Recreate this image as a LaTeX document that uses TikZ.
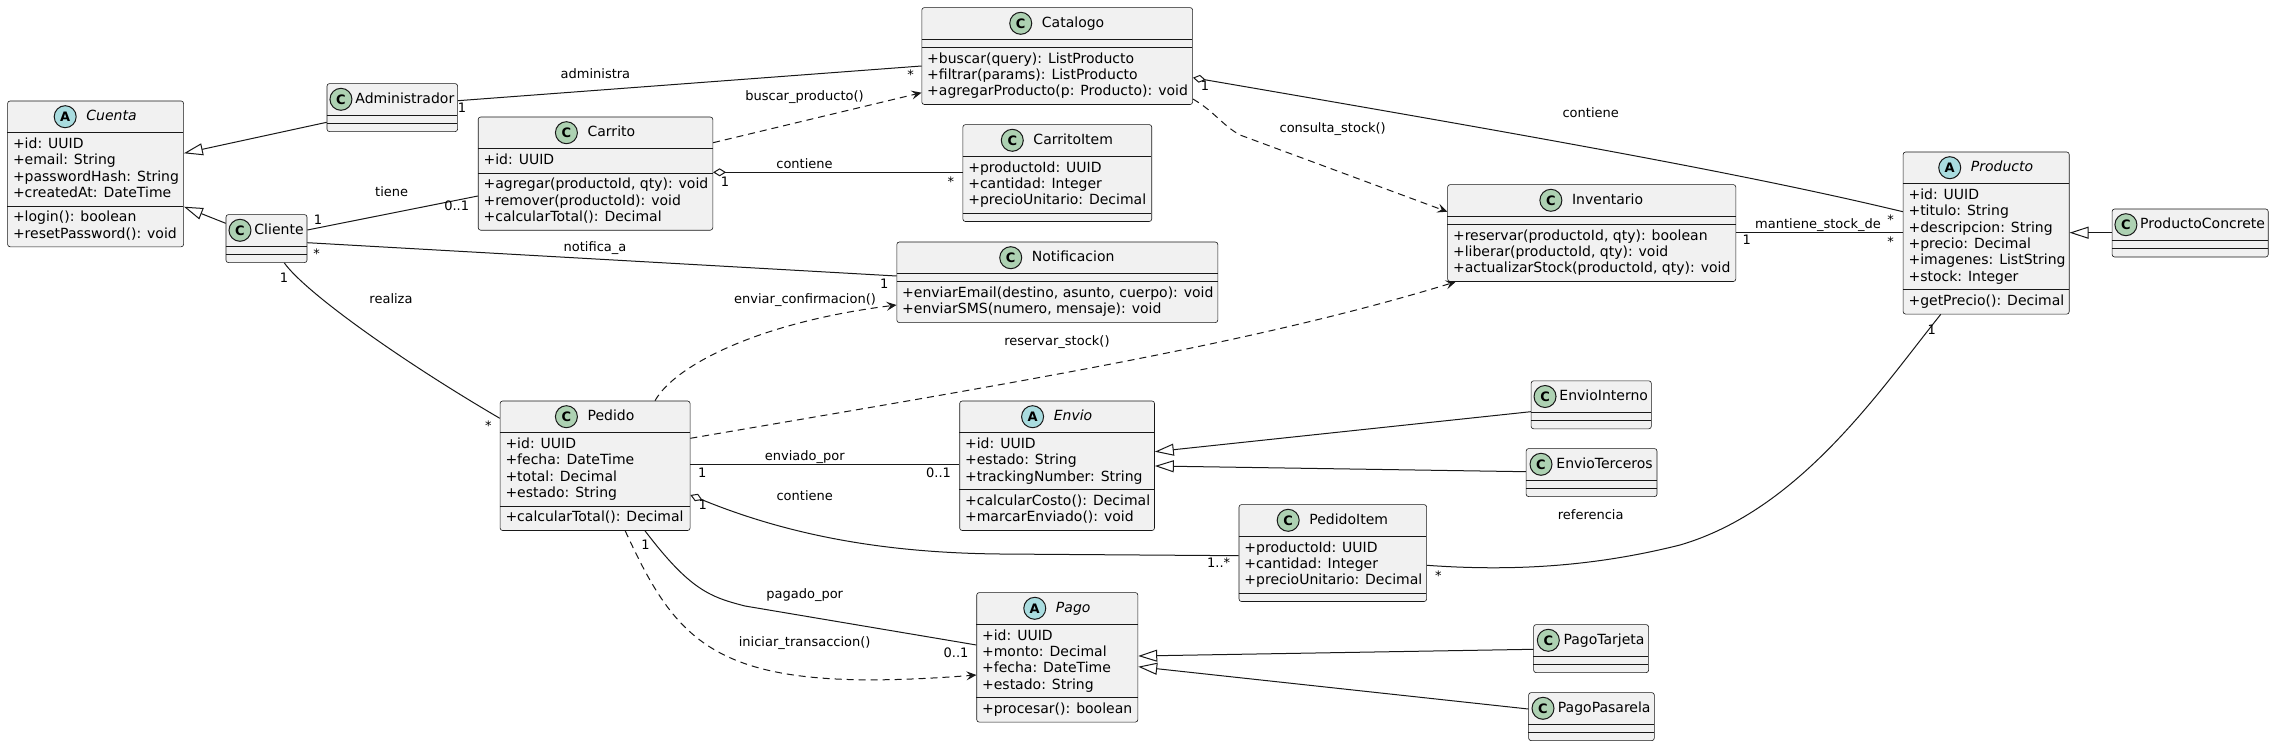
\documentclass[tikz,border=0pt]{standalone}
\usepackage{fontspec}
\setmainfont{DejaVu Sans}
\usetikzlibrary{arrows.meta,calc}
\definecolor{boxfill}{HTML}{F1F1F1}
\definecolor{bordercol}{HTML}{181818}
\definecolor{clsfill}{HTML}{ADD1B2}
\definecolor{absfill}{HTML}{A9DCDF}
\definecolor{linecol}{HTML}{181818}
\newlength\clstw
\tikzset{
  classbox/.style={draw=bordercol, fill=boxfill, line width=0.6pt, rounded corners=2.5pt, inner sep=0pt},
  sepline/.style={draw=bordercol, line width=0.6pt},
  attr/.style={anchor=west, inner sep=0pt, text height=10.5pt, text depth=2.5pt, font=\fontsize{14}{16}\selectfont},
  lbl/.style={inner sep=0pt, text height=9.5pt, text depth=2.5pt, font=\fontsize{13}{15}\selectfont},
  conn/.style={draw=linecol, line width=1pt},
  gen/.style={-{Triangle[open, length=19pt, width=12pt]}},
  dep/.style={dash pattern=on 7pt off 5pt, -{Stealth[length=10pt, width=9pt, inset=4pt]}},
  agg/.style={{Diamond[open, length=13pt, width=8pt]}-},
}
% #1 name, #2 kind (A/C), #3 left, #4 top, #5 width, #6 n attrs, #7 attrs, #8 n methods, #9 methods
\newcommand\umlcls[9]{%
  \pgfmathsetmacro\yA{#4+32}%
  \pgfmathsetmacro\yB{\yA+16.3*#6+8}%
  \pgfmathsetmacro\yC{\yB+16.3*#8+8}%
  \pgfmathsetmacro\hh{\yC-#4}%
  \pgfmathsetmacro\xR{#3+#5}%
  \node[classbox, minimum width=#5pt, minimum height=\hh pt, anchor=north west] (#1) at (#3,#4) {};
  \draw[sepline] (#3,\yA) -- (\xR,\yA) (#3,\yB) -- (\xR,\yB);
  \ifx A#2\def\tfont{\itshape}\def\cfill{absfill}\else\def\tfont{}\def\cfill{clsfill}\fi
  \pgfinterruptpicture
    \settowidth\clstw{\normalfont\fontsize{14}{16}\selectfont\tfont #1}%
    \global\clstw=\clstw
  \endpgfinterruptpicture
  \pgfmathsetmacro\gp{min(10,(#5-\clstw-22)/3)}%
  \pgfmathsetmacro\cx{#3+(#5-22-\gp-\clstw)/2+11}%
  \pgfmathsetmacro\tx{\cx+11+\gp}%
  \draw[fill=\cfill, draw=bordercol, line width=1pt] (\cx,#4+16) circle[radius=11pt];
  \node[inner sep=0pt, font=\fontsize{13}{13}\selectfont\bfseries] (#1-c) at (\cx,#4+16) {#2};
  \node[attr] (#1-t) at (\tx,#4+16) {\tfont #1};
  \ifnum#6>0
    \foreach \itm [count=\i from 0] in {#7} {\node[attr] (#1-a\i) at (#3+5.5,\yA+11.8+16.3*\i) {\itm};}
  \fi
  \ifnum#8>0
    \foreach \itm [count=\i from 0] in {#9} {\node[attr] (#1-m\i) at (#3+5.5,\yB+11.8+16.3*\i) {\itm};}
  \fi
}
\begin{document}
\begin{tikzpicture}[x=1pt, y=-1pt]
\fill[white] (0,0) rectangle (2274,746);
\useasboundingbox (0,0) rectangle (2274,746);

\umlcls{Cuenta}{A}{7.3}{100.7}{176}{4}{{+id: UUID},{+email: String},{+passwordHash: String},{+createdAt: DateTime}}{2}{{+login(): boolean},{+resetPassword(): void}}
\umlcls{Administrador}{C}{326.7}{83.3}{130.6}{0}{}{0}{}
\umlcls{Cliente}{C}{225.7}{214.3}{81}{0}{}{0}{}
\umlcls{Catalogo}{C}{921.5}{7.3}{270.8}{0}{}{3}{{+buscar(query): ListProducto},{+filtrar(params): ListProducto},{+agregarProducto(p: Producto): void}}
\umlcls{Carrito}{C}{477.9}{116.7}{234.6}{1}{{+id: UUID}}{3}{{+agregar(productoId, qty): void},{+remover(productoId): void},{+calcularTotal(): Decimal}}
\umlcls{CarritoItem}{C}{962.6}{124.3}{188.8}{3}{{+productoId: UUID},{+cantidad: Integer},{+precioUnitario: Decimal}}{0}{}
\umlcls{Notificacion}{C}{896.5}{241.7}{321}{0}{}{2}{{+enviarEmail(destino, asunto, cuerpo): void},{+enviarSMS(numero, mensaje): void}}
\umlcls{Inventario}{C}{1447.3}{184.3}{288.2}{0}{}{3}{{+reservar(productoId, qty): boolean},{+liberar(productoId, qty): void},{+actualizarStock(productoId, qty): void}}
\umlcls{Producto}{A}{1902.8}{151.7}{166.1}{6}{{+id: UUID},{+titulo: String},{+descripcion: String},{+precio: Decimal},{+imagenes: ListString},{+stock: Integer}}{1}{{+getPrecio(): Decimal}}
\umlcls{ProductoConcrete}{C}{2111.8}{208.7}{156.1}{0}{}{0}{}
\umlcls{Pedido}{C}{499.8}{400.7}{190}{4}{{+id: UUID},{+fecha: DateTime},{+total: Decimal},{+estado: String}}{1}{{+calcularTotal(): Decimal}}
\umlcls{Envio}{A}{959.4}{400.7}{194.8}{3}{{+id: UUID},{+estado: String},{+trackingNumber: String}}{2}{{+calcularCosto(): Decimal},{+marcarEnviado(): void}}
\umlcls{EnvioInterno}{C}{1530.8}{380.5}{120.2}{0}{}{0}{}
\umlcls{EnvioTerceros}{C}{1525.8}{448.3}{130.9}{0}{}{0}{}
\umlcls{PedidoItem}{C}{1238.7}{504.3}{187.6}{3}{{+productoId: UUID},{+cantidad: Integer},{+precioUnitario: Decimal}}{0}{}
\umlcls{Pago}{A}{976.4}{592.3}{161.2}{4}{{+id: UUID},{+monto: Decimal},{+fecha: DateTime},{+estado: String}}{1}{{+procesar(): boolean}}
\umlcls{PagoTarjeta}{C}{1533.3}{624.3}{115}{0}{}{0}{}
\umlcls{PagoPasarela}{C}{1528.3}{692.3}{125.7}{0}{}{0}{}

\begin{scope}[conn]
\draw[gen] (Administrador.west |- 0,122.3) -- (Cuenta.east |- 0,153.3);
\draw[gen] (Cliente.west |- 0,223.3) -- (Cuenta.east |- 0,206.7);
\draw (Administrador.east |- 0,100.7) -- (Catalogo.west |- 0,66);
\draw (Cliente.east |- 0,230) -- (Carrito.west |- 0,196);
\draw (Cliente.east |- 0,242.7) -- (Notificacion.west |- 0,276);
\draw (Cliente.south -| 284.3,0) .. controls (305,292) and (400,360) .. (Pedido.west |- 0,418.3);
\draw[dep] (Carrito.east |- 0,142.7) -- (Catalogo.west |- 0,92.7);
\draw[agg] (Carrito.east |- 0,172.3) -- (CarritoItem.west |- 0,172.3);
\draw[agg] (Catalogo.east |- 0,77.7) .. controls (1550,139) and (1750,175) .. (Producto.west |- 0,211.7);
\draw[dep] (Catalogo.east |- 0,99) .. controls (1215,112) and (1222,125) .. (1240,135) -- (Inventario.west |- 0,211.7);
\draw (Inventario.east |- 0,232.7) -- (Producto.west |- 0,232.7);
\draw[gen] (ProductoConcrete.west |- 0,232.7) -- (Producto.east |- 0,232.7);
\draw[dep] (Pedido.north -| 655,0) .. controls (675,365) and (760,322) .. (Notificacion.west |- 0,305);
\draw[dep] (Pedido.east |- 0,438.3) .. controls (1000,385) and (1250,345) .. (Inventario.south -| 1455.7,0);
\draw (Pedido.east |- 0,464.3) -- (Envio.west |- 0,464.3);
\draw[agg] (Pedido.east |- 0,495) .. controls (800,540) and (900,553) .. (1000,554) -- (PedidoItem.west |- 0,555.7);
\draw (Pedido.south -| 645,0) .. controls (690,590) and (710,597) .. (745,606) -- (Pago.west |- 0,645);
\draw[dep] (Pedido.south -| 625.2,0) .. controls (680,650) and (720,695) .. (Pago.west |- 0,675);
\draw[gen] (EnvioInterno.west |- 0,411.7) -- (Envio.east |- 0,451.7);
\draw[gen] (EnvioTerceros.west |- 0,471.7) -- (Envio.east |- 0,466);
\draw[gen] (PagoTarjeta.west |- 0,649.3) -- (Pago.east |- 0,656);
\draw[gen] (PagoPasarela.west |- 0,709) -- (Pago.east |- 0,666.7);
\draw (PedidoItem.east |- 0,565.3) .. controls (1520,572) and (1600,565) .. (1680,545) .. controls (1800,510) and (1880,390) .. (Producto.south -| 1940.7,0);
\end{scope}

\node[lbl] (L1) at (595.4,75) {administra};
\node[lbl] (L1a) at (462,109) {1};
\node[lbl] (L1b) at (910.7,75.7) {*};
\node[lbl] (L2) at (391.7,193.3) {tiene};
\node[lbl] (L2a) at (318,221) {1};
\node[lbl] (L2b) at (456.7,207) {0..1};
\node[lbl] (L3) at (595,248.3) {notifica\_a};
\node[lbl] (L3a) at (316.7,255) {*};
\node[lbl] (L3b) at (884.3,285) {1};
\node[lbl] (L4) at (391,300) {realiza};
\node[lbl] (L4a) at (284,279) {1};
\node[lbl] (L4b) at (488.3,426.7) {*};
\node[lbl] (L5) at (804.5,96.7) {buscar\_producto()};
\node[lbl] (L6) at (804.5,165) {contiene};
\node[lbl] (L6a) at (725,183.5) {1};
\node[lbl] (L6b) at (950.8,183.3) {*};
\node[lbl] (L7) at (1590.7,114) {contiene};
\node[lbl] (L7a) at (1205,87.5) {1};
\node[lbl] (L7b) at (1890.5,220.7) {*};
\node[lbl] (L8) at (1332.7,129) {consulta\_stock()};
\node[lbl] (L9) at (1818,225) {mantiene\_stock\_de};
\node[lbl] (L9a) at (1746.7,241) {1};
\node[lbl] (L9b) at (1890.5,243.3) {*};
\node[lbl] (L10) at (805,300) {enviar\_confirmacion()};
\node[lbl] (L11) at (1056.9,342.3) {reservar\_stock()};
\node[lbl] (L12) at (804.7,456.7) {enviado\_por};
\node[lbl] (L12a) at (702.3,473.5) {1};
\node[lbl] (L12b) at (938.6,473.5) {0..1};
\node[lbl] (L13) at (804.7,497.3) {contiene};
\node[lbl] (L13a) at (702.8,506) {1};
\node[lbl] (L13b) at (1218.6,563.5) {1..*};
\node[lbl] (L14) at (804.7,595) {pagado\_por};
\node[lbl] (L14a) at (645.6,546) {1};
\node[lbl] (L14b) at (956,654) {0..1};
\node[lbl] (L15) at (804.7,643.3) {iniciar\_transaccion()};
\node[lbl] (L16) at (1590.7,515.7) {referencia};
\node[lbl] (L16a) at (1438.3,577.3) {*};
\node[lbl] (L16b) at (1931.7,331) {1};
\end{tikzpicture}
\end{document}
